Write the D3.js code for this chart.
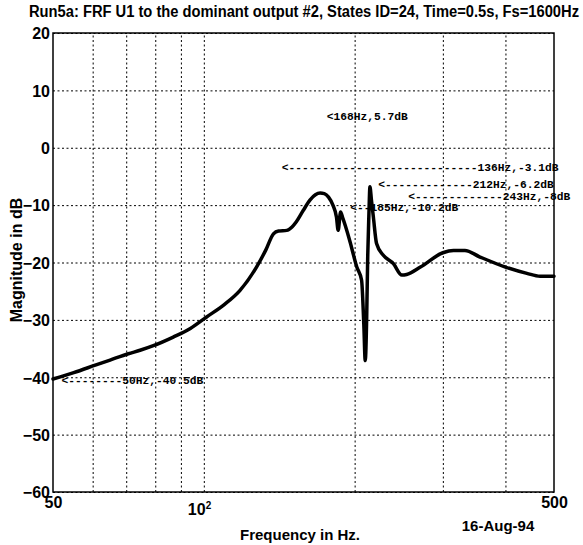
<!DOCTYPE html>
<html>
<head>
<meta charset="utf-8">
<script src="https://cdn.jsdelivr.net/npm/d3@7"></script>
<style>
  body { margin: 0; background: #fff; }
  svg { display: block; }
  .tick-label, .axis-title { font-family: "Liberation Sans", Arial, sans-serif; font-weight: bold; fill: #000; }
  .chart-title { font-family: "Liberation Sans Narrow", "Liberation Sans", Arial, sans-serif; font-weight: bold; fill: #000; }
  .anno { font-family: "Liberation Mono", "DejaVu Sans Mono", monospace; font-size: 11.25px; fill: #000; font-weight: bold; }
</style>
</head>
<body>
<div id="chart"></div>
<script>
// FRF magnitude curve (Hz, dB)
var freq = [50, 55, 60.7, 65, 70.7, 74.6, 79.3, 86.9, 94, 101.3, 110, 118, 127.4, 133, 137.7, 141,
    146.4, 150, 153, 158, 163, 167, 170.7, 174, 177.4, 181, 184, 185.4, 187.5, 189.5, 191.5, 196,
    202, 206.5, 208.6, 210, 211.4, 212.4, 213.5, 214.6, 216, 218, 221.2, 228, 239, 248.5, 254,
    270.6, 300, 315, 332, 355, 400, 441.5, 469, 500];
var magDb = [-40.3, -39.2, -37.9, -37.0, -35.9, -35.3, -34.5, -33.0, -31.5, -29.5, -27.3, -24.9, -20.8, -17.8, -15.0, -14.5,
    -14.4, -13.8, -12.9, -10.9, -9.1, -8.2, -7.9, -8.0, -8.6, -10.0, -12.1, -14.4, -11.2, -12.3, -13.5, -16.5,
    -20.8, -23.1, -30.7, -37.1, -29.5, -19.0, -12.0, -6.8, -9.0, -12.1, -16.7, -18.7, -20.2, -22.2, -22.1,
    -20.8, -18.3, -17.9, -17.9, -19.0, -20.8, -21.9, -22.4, -22.4];

// axis ticks
var yTicks = [-60, -50, -40, -30, -20, -10, 0, 10, 20];
var xGridTicks = [60, 70, 80, 90, 100, 200, 300, 400];
var xLabelTicks = [50, 100, 500];

// gtext-style annotations: where the "<" sits (Hz, dB), number of dashes, label
var annoFreq = [176, 143, 223, 256, 196, 52];
var annoDb = [5.3, -3.6, -6.5, -8.6, -10.5, -40.6];
var annoDashes = [0, 28, 13, 13, 2, 8];
var annoLabels = ["168Hz,5.7dB", "136Hz,-3.1dB", "212Hz,-6.2dB", "243Hz,-8dB", "185Hz,-10.2dB", "50Hz,-40.5dB"];

function drawChart() {
    var width = 583,
        height = 545,
        plotLeft = 53,
        plotRight = 554,
        plotTop = 33,
        plotBottom = 492;

    var svg = d3.select("#chart").append("svg")
        .attr("width", width)
        .attr("height", height);

    var x = d3.scaleLog().domain([50, 500]).range([plotLeft, plotRight]);
    var y = d3.scaleLinear().domain([-60, 20]).range([plotBottom, plotTop]);

    //Vertical dotted grid
    svg.append("g")
        .attr("transform", "translate(0," + plotBottom + ")")
        .call(d3.axisBottom(x).tickValues(xGridTicks).tickSize(-(plotBottom - plotTop)).tickFormat(""))
        .call(function (g) {
            g.select(".domain").remove();
            g.selectAll("line").attr("stroke", "#000").attr("stroke-width", 1).attr("stroke-dasharray", "2,2.5");
        });

    //Horizontal dotted grid + y tick labels
    svg.append("g")
        .attr("transform", "translate(" + plotLeft + ",0)")
        .call(d3.axisLeft(y).tickValues(yTicks).tickSize(-(plotRight - plotLeft)).tickPadding(3).tickFormat(d3.format("d")))
        .call(function (g) {
            g.select(".domain").remove();
            g.selectAll("line").attr("stroke", "#000").attr("stroke-width", 1).attr("stroke-dasharray", "2,2.5");
            g.selectAll("text")
                .attr("class", "tick-label")
                .attr("font-size", 16)
                .attr("dy", "0.36em");
        });
    svg.selectAll(".tick-label").attr("font-family", null);

    //x tick labels (50, 10^2, 500)
    var xLab = svg.append("g")
        .attr("transform", "translate(0," + plotBottom + ")")
        .call(d3.axisBottom(x).tickValues(xLabelTicks).tickSize(0).tickPadding(5).tickFormat(function (d) {
            return d === 100 ? "10" : String(d);
        }));
    xLab.select(".domain").remove();
    xLab.attr("font-family", null).attr("font-size", null);
    xLab.selectAll("text")
        .attr("class", "tick-label")
        .attr("font-size", 16);
    xLab.selectAll(".tick").filter(function (d) { return d === 100; }).select("text")
        .attr("dx", "-0.3em")
        .attr("y", 12)
        .append("tspan")
        .attr("font-size", 10)
        .attr("dy", "-0.6em")
        .text("2");

    //Frame
    svg.append("rect")
        .attr("x", plotLeft)
        .attr("y", plotTop)
        .attr("width", plotRight - plotLeft)
        .attr("height", plotBottom - plotTop)
        .attr("fill", "none")
        .attr("stroke", "#000")
        .attr("stroke-width", 1.5);

    //Curve
    var line = d3.line()
        .x(function (d, i) { return x(freq[i]); })
        .y(function (d, i) { return y(magDb[i]); })
        .curve(d3.curveMonotoneX);

    svg.append("path")
        .datum(freq)
        .attr("d", line)
        .attr("fill", "none")
        .attr("stroke", "#000")
        .attr("stroke-width", 3.5)
        .attr("stroke-linejoin", "round")
        .attr("stroke-linecap", "round");

    //Annotations
    svg.append("g")
        .selectAll("text")
        .data(annoLabels)
        .enter()
        .append("text")
        .attr("class", "anno")
        .attr("x", function (d, i) { return x(annoFreq[i]); })
        .attr("y", function (d, i) { return y(annoDb[i]); })
        .attr("dominant-baseline", "central")
        .attr("xml:space", "preserve")
        .text(function (d, i) { return "<" + "-".repeat(annoDashes[i]) + d; });

    //Titles
    svg.append("text")
        .attr("class", "chart-title")
        .attr("x", 304)
        .attr("y", 17)
        .attr("text-anchor", "middle")
        .attr("font-size", 16)
        .attr("textLength", 550)
        .attr("lengthAdjust", "spacingAndGlyphs")
        .text("Run5a: FRF U1 to the dominant output #2, States ID=24, Time=0.5s, Fs=1600Hz");

    svg.append("text")
        .attr("class", "axis-title")
        .attr("transform", "translate(22,260) rotate(-90)")
        .attr("text-anchor", "middle")
        .attr("font-size", 16)
        .text("Magnitude in dB");

    svg.append("text")
        .attr("class", "axis-title")
        .attr("x", 300)
        .attr("y", 540)
        .attr("text-anchor", "middle")
        .attr("font-size", 15)
        .text("Frequency in Hz.");

    svg.append("text")
        .attr("class", "axis-title")
        .attr("x", 498)
        .attr("y", 531)
        .attr("text-anchor", "middle")
        .attr("font-size", 15)
        .text("16-Aug-94");
}

drawChart();
</script>
</body>
</html>
